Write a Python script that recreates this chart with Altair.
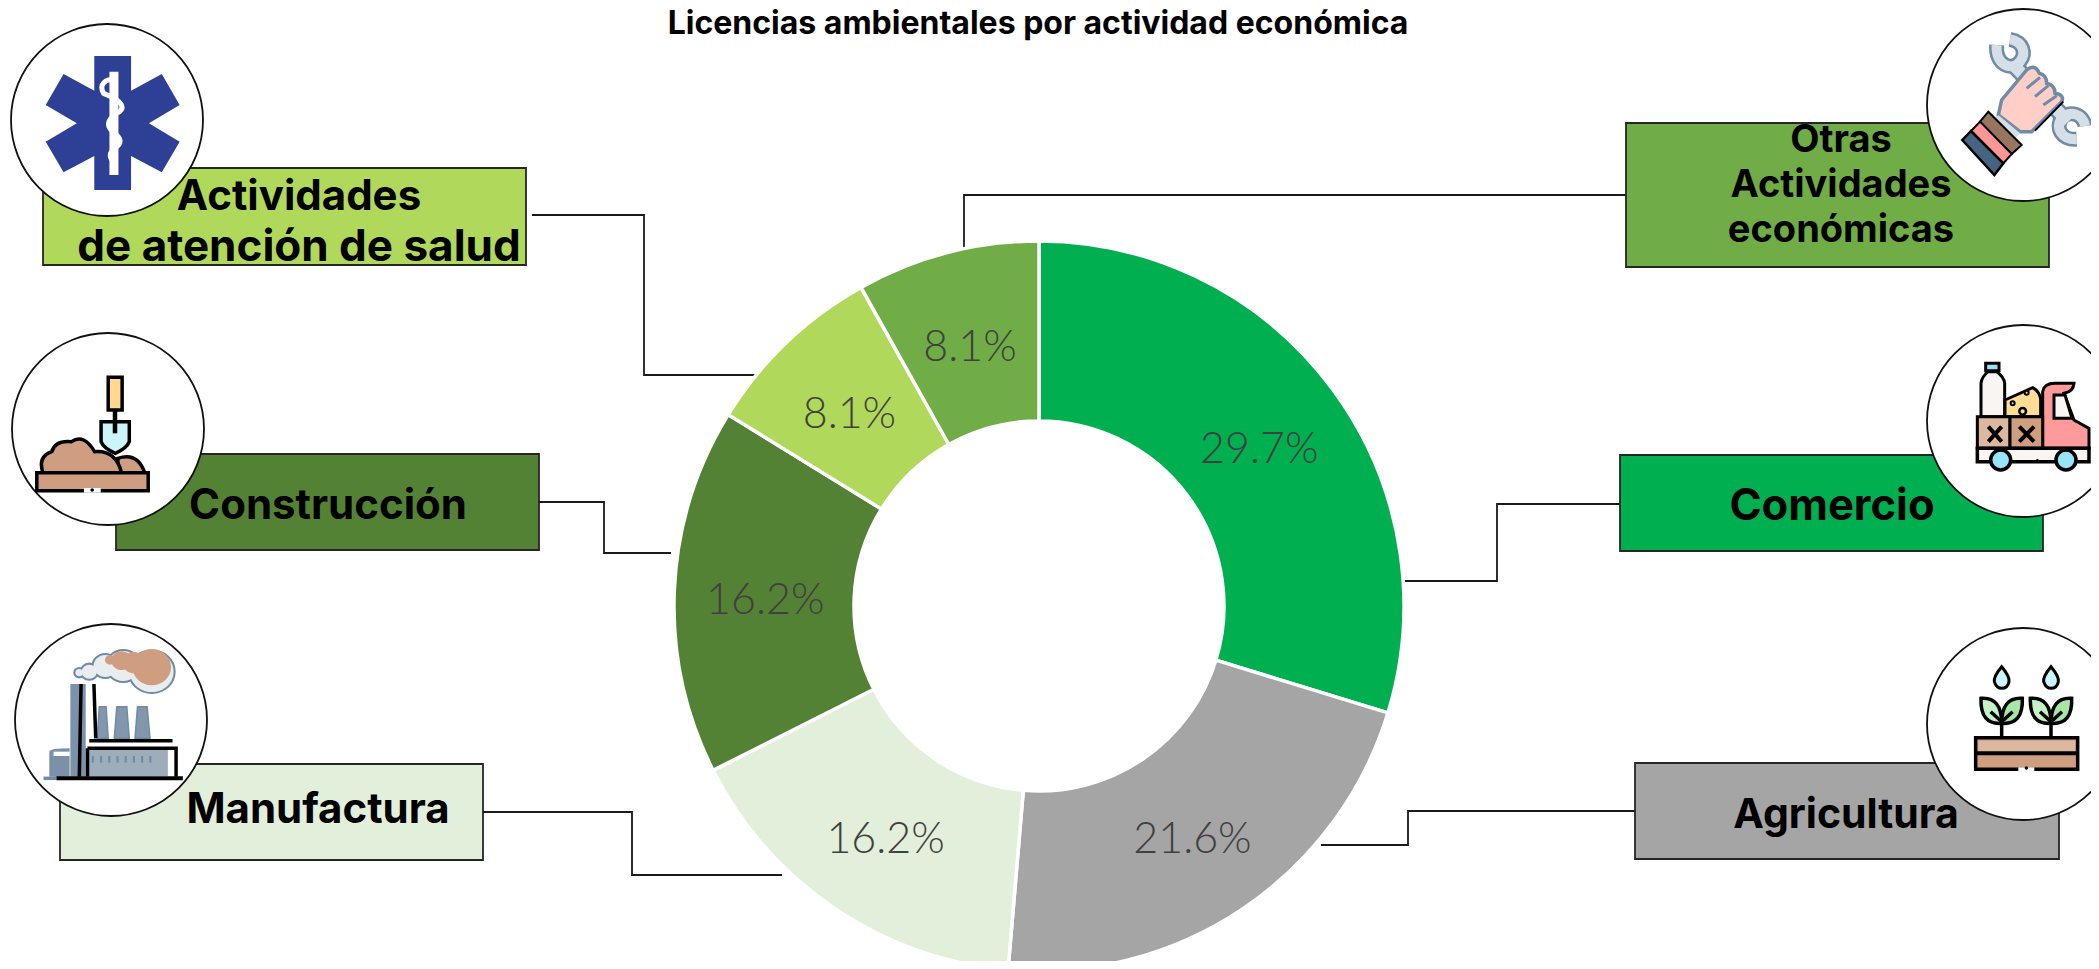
import re
import altair as alt
import pandas as pd

# ---- values ----
categories = ["Comercio", "Agricultura", "Manufactura", "Construcción",
              "Actividades de atención de salud", "Otras Actividades económicas"]
shares = [0.297, 0.216, 0.162, 0.162, 0.081, 0.081]
colors = ["#00B050", "#A5A5A5", "#E2EFDA", "#548235", "#B0D95B", "#70AD47"]
title_text = "Licencias ambientales por actividad económica"

OFF = 8  # page margin
FONT = "Inter"

donut = pd.DataFrame({"cat": categories, "share": shares, "col": colors,
                      "ord": range(len(categories))})

# ---- annotation layout (page pixels) ----
boxes = pd.DataFrame([
    (43, 168, 526, 265, colors[4]),
    (1626, 123, 2049, 267, colors[5]),
    (116, 454, 539, 550, colors[3]),
    (1620, 455, 2043, 551, colors[0]),
    (60, 764, 483, 860, colors[2]),
    (1635, 763, 2059, 859, colors[1]),
], columns=["x0", "y0", "x1", "y1", "col"])
for c in ["x0", "x1", "y0", "y1"]:
    boxes[c] -= OFF

leaders = {
    "salud": [(532, 215), (644, 215), (644, 375), (756, 375)],
    "otras": [(1626, 195), (964, 195), (964, 259)],
    "cons": [(536, 502), (604, 502), (604, 553), (671, 553)],
    "com": [(1620, 504), (1497, 504), (1497, 581), (1405, 581)],
    "manu": [(483, 812), (632, 812), (632, 875), (782, 875)],
    "agri": [(1635, 811), (1408, 811), (1408, 845), (1321, 845)],
}
leader_rows = [{"g": k, "i": i, "x": p[0] - OFF, "y": p[1] - OFF}
               for k, pts in leaders.items() for i, p in enumerate(pts)]

labels = pd.DataFrame([
    ("Actividades", 299, 210, 42),
    ("de atención de salud", 299, 261, 44),
    ("Otras", 1841, 152, 38),
    ("Actividades", 1841, 197, 38),
    ("económicas", 1841, 242, 38),
    ("Construcción", 328, 519, 42),
    ("Comercio", 1832, 520, 43.5),
    ("Manufactura", 318, 823, 42),
    ("Agricultura", 1846, 828, 41),
], columns=["t", "x", "y", "s"])
labels["x"] -= OFF
labels["y"] -= OFF

circles = pd.DataFrame([(107, 120), (2023, 105), (108, 429), (2023, 421), (111, 720), (2023, 724)],
                       columns=["x", "y"]) - OFF
R = 96

# ---- pictograms, drawn as custom symbol paths ----
Z1 = (0, 0, 2.8, 3); Z2 = (1580, 0, 3, 3); Z3 = (0, 320, 2.8, 3)
Z4 = (1580, 320, 3, 3); Z5 = (0, 610, 2.8, 3); Z6 = (1580, 610, 3, 3)
rows = []


def add(d, zoom, anchor, fill="transparent", stroke="transparent", sw=0):
    ox, oy, fx, fy = zoom
    ax, ay = anchor
    parts = re.findall(r"[MLQCZ]|-?\d+\.?\d*", d)
    out, k = [], 0
    for p in parts:
        if p.isalpha():
            out.append(p)
        else:
            v = float(p)
            if k % 2 == 0:
                out.append(f"{(ox + v / fx - ax) / 100:.4f}")
            else:
                out.append(f"{(oy + v / fy - ay) / 100:.4f}")
            k += 1
    rows.append({"d": " ".join(out), "x": ax - OFF, "y": ay - OFF, "fill": fill,
                 "stroke": stroke, "sw": sw})


def rect(a, b, c, d):
    return f"M{a} {b} L{c} {b} L{c} {d} L{a} {d} Z"


def ell(cx, cy, r):
    k = r * 0.5523
    return (f"M{cx - r} {cy} C{cx - r} {cy - k} {cx - k} {cy - r} {cx} {cy - r} "
            f"C{cx + k} {cy - r} {cx + r} {cy - k} {cx + r} {cy} "
            f"C{cx + r} {cy + k} {cx + k} {cy + r} {cx} {cy + r} "
            f"C{cx - k} {cy + r} {cx - r} {cy + k} {cx - r} {cy} Z")


BROWN = "#CF9E80"; TAN = "#DDB8A0"; STEEL = "#6F8BA5"; K = "#000000"; CY = "#96E5F8"

# star of life
A = (107, 120)
add("M264 168 L367 168 L367 272 L453 222 L503 315 L417 370 L503 425 L453 517 L367 468 L367 570 "
    "L264 570 L264 468 L178 517 L128 425 L215 370 L128 315 L178 222 L264 272 Z", Z1, A, "#2E4095")
add("M319 215 L319 525", Z1, A, stroke="#FFFFFF", sw=9)
add("M330 235 Q270 240 290 280 Q360 310 335 335 Q285 365 315 395 Q355 425 320 445 Q295 470 325 490",
    Z1, A, stroke="#FFFFFF", sw=5)

# hand with spanners
A = (2023, 105)
for sw, c in [(15, STEEL), (10, "#D5DFE8")]:
    add("M1300 195 L1465 365", Z2, A, stroke=c, sw=sw + 2)
    add("M1250 135 C1245 195 1295 215 1320 185 C1340 160 1330 125 1290 118", Z2, A, stroke=c, sw=sw)
    add("M1515 378 C1510 340 1465 330 1445 355 C1425 385 1445 420 1490 418", Z2, A, stroke=c, sw=sw)
add("M1265 300 L1340 210 Q1365 190 1378 220 Q1400 225 1400 250 Q1425 255 1425 280 Q1455 285 1445 305 "
    "L1355 395 L1320 395 L1255 345 Z", Z2, A, "#FFCFC7", STEEL, 3.5)
add("M1340 265 L1380 232 M1365 290 L1405 257 M1390 315 L1430 287", Z2, A, stroke=STEEL, sw=3)
add("M1365 392 L1450 305", Z2, A, stroke=K, sw=2)
add("M1255 345 L1320 400 L1300 420 L1238 362 Z", Z2, A, "#D5DFE8")
add("M1225 335 L1325 435 L1295 462 L1200 365 Z", Z2, A, "#997560", K, 2)
add("M1200 365 L1295 462 L1270 490 L1173 393 Z", Z2, A, "#FF9595", K, 2)
add("M1173 393 L1270 490 L1243 525 L1147 420 Z", Z2, A, "#466482", K, 2.5)

# shovel and soil
A = (108, 429)
add("M330 415 Q385 395 405 458 L330 458 Z", Z3, A, BROWN, K, 3.5)
add("M283 305 L362 305 L362 365 Q355 385 323 400 Q290 385 283 365 Z", Z3, A, "#CBF4FB", K, 3.5)
add(rect(303, 172, 342, 270), Z3, A, "#FFD98F", K, 3.5)
add("M322 270 L322 340", Z3, A, stroke=K, sw=4.5)
add("M120 458 Q105 410 145 395 Q155 360 200 365 Q235 340 265 395 Q325 390 340 458 Z", Z3, A, BROWN, K, 3.5)
add(rect(103, 458, 415, 512), Z3, A, BROWN, K, 3.5)
add(rect(235, 504, 282, 518), Z3, A, "#FFFFFF")
add(ell(258, 510, 5), Z3, A, K)

# delivery truck
A = (2023, 421)
add("M1203 290 L1203 190 Q1205 170 1225 155 L1250 155 Q1272 170 1274 190 L1274 290 Z", Z4, A, "#F8F5F2", K, 3)
add(rect(1217, 130, 1257, 152), Z4, A, CY, K, 3)
add("M1275 240 L1358 203 Q1380 215 1382 240 L1382 290 L1275 290 Z", Z4, A, "#FFDD95", K, 3)
add(ell(1340, 218, 6), Z4, A, "#FFDD95", K, 2)
add(ell(1298, 250, 6), Z4, A, "#FFDD95", K, 2)
add(ell(1328, 274, 10), Z4, A, "#FFDD95", K, 2.5)
add("M1388 385 L1388 215 Q1392 190 1425 190 L1482 190 Q1480 215 1452 220 L1482 300 L1527 325 L1527 385 Z",
    Z4, A, "#FF9A9A", K, 3)
add("M1422 225 L1455 225 L1476 295 L1422 295 Z", Z4, A, "#F8F5F2", K, 3)
add(rect(1192, 290, 1290, 385), Z4, A, TAN, K, 3)
add(rect(1290, 290, 1388, 385), Z4, A, BROWN, K, 3)
add("M1225 320 L1265 365 M1265 320 L1225 365 M1318 320 L1362 365 M1362 320 L1318 365", Z4, A, stroke=K, sw=4)
add(rect(1192, 385, 1527, 425), Z4, A, "#F8F5F2", K, 3.5)
add(ell(1262, 420, 30), Z4, A, CY, K, 3.5)
add(ell(1458, 420, 30), Z4, A, CY, K, 3.5)
add(ell(1372, 422, 5), Z4, A, K)

# factory
A = (111, 720)
puffs = [(425, 185, 62), (345, 168, 46), (295, 168, 34), (250, 185, 22), (222, 188, 12)]
for cx, cy, r in puffs:
    add(ell(cx, cy, r), Z5, A, "#E9EDF0", STEEL, 3.5)
for cx, cy, r in puffs:
    add(ell(cx, cy, r - 1), Z5, A, "#E9EDF0")
for cx, cy, r in [(425, 172, 54), (375, 158, 32), (340, 152, 28), (308, 150, 14)]:
    add(ell(cx, cy, r), Z5, A, BROWN)
add(rect(197, 222, 240, 500), Z5, A, "#7A92AA")
add("M272 385 L278 290 L297 290 L303 385 Z M320 385 L327 290 L355 290 L362 385 Z M378 385 L385 290 L412 290 L420 385 Z",
    Z5, A, "#8296AC", STEEL, 1.5)
add("M138 500 L138 425 Q140 415 195 415 L195 500 Z", Z5, A, "#7C91A8")
add(rect(150, 425, 195, 438), Z5, A, "#FFFFFF")
add(rect(245, 420, 470, 498), Z5, A, "#9DADBB")
for px_ in [260, 283, 306, 329, 352, 375, 398, 421]:
    add(rect(px_ - 3, 438, px_ + 3, 458), Z5, A, STEEL)
add("M227 222 L222 500 M263 222 L268 385 M250 392 L483 392 M245 415 L493 415 L493 500 M245 415 L245 500",
    Z5, A, stroke=K, sw=3.5)
add("M122 505 L158 505", Z5, A, stroke=STEEL, sw=3.5)
add("M158 505 L512 505", Z5, A, stroke=K, sw=4)

# seedlings
A = (2023, 724)
for dx in [0, 148]:
    add(f"M{1265 + dx} 170 Q{1240 + dx} 200 {1243 + dx} 215 Q{1250 + dx} 235 {1265 + dx} 235 "
        f"Q{1283 + dx} 235 {1287 + dx} 215 Q{1290 + dx} 200 {1265 + dx} 170 Z", Z6, A, "#CBF4FB", K, 3)
    add(f"M{1265 + dx} 340 Q{1200 + dx} 345 {1203 + dx} 265 Q{1265 + dx} 260 {1265 + dx} 340 Z", Z6, A, "#C6F0C6", K, 3.5)
    add(f"M{1265 + dx} 340 Q{1330 + dx} 345 {1327 + dx} 265 Q{1265 + dx} 260 {1265 + dx} 340 Z", Z6, A, "#A6E6A6", K, 3.5)
    add(f"M{1265 + dx} 335 L{1265 + dx} 383 M{1265 + dx} 335 L{1232 + dx} 305 M{1265 + dx} 335 L{1298 + dx} 305",
        Z6, A, stroke=K, sw=3.5)
add(rect(1187, 383, 1493, 478), Z6, A, BROWN, K, 3.5)
add(rect(1195, 392, 1485, 428), Z6, A, TAN)
add("M1187 430 L1493 430", Z6, A, stroke=K, sw=4)
add(rect(1315, 472, 1363, 484), Z6, A, "#FFFFFF")
add(ell(1339, 474, 5), Z6, A, K)

icons = pd.DataFrame(rows)
icons["ord"] = range(len(icons))

# ---- layers ----
px = lambda f: alt.X(f, scale=None, axis=None)
py = lambda f: alt.Y(f, scale=None, axis=None)
CX, CY_ = 1039 - OFF, 606 - OFF

base = alt.Chart(donut).encode(
    theta=alt.Theta("share:Q", stack=True, scale=alt.Scale(domain=[0, sum(shares)], range=[0, 6.28318530718])),
    order=alt.Order("ord:Q"),
    x=alt.value(CX), y=alt.value(CY_),
)
arc = base.mark_arc(radius=365, radius2=185, stroke="#FFFFFF", strokeWidth=3.5).encode(
    fill=alt.Fill("col:N", scale=None))
pct = base.mark_text(radius=274, dy=7, font="Lato", fontSize=43, fontWeight=300, color="#404040",
                     align="center", baseline="middle").encode(
    text=alt.Text("share:Q", format=".1%"))

lead = alt.Chart(pd.DataFrame(leader_rows)).mark_line(color="#1A1A1A", strokeWidth=1.8).encode(
    x=px("x:Q"), y=py("y:Q"), detail="g:N", order="i:Q")
box = alt.Chart(boxes).mark_rect(stroke="#262626", strokeWidth=1.8).encode(
    x=px("x0:Q"), x2="x1:Q", y=py("y0:Q"), y2="y1:Q", fill=alt.Fill("col:N", scale=None))
lab = alt.Chart(labels).mark_text(font=FONT, fontWeight="bold", color="#000000", align="center",
                                  baseline="alphabetic").encode(
    x=px("x:Q"), y=py("y:Q"), text="t:N", size=alt.Size("s:Q", scale=None))
circ = alt.Chart(circles).mark_point(shape="circle", filled=True, fill="#FFFFFF", stroke="#111111",
                                     strokeWidth=1.8, opacity=1, size=(2 * R) ** 2).encode(
    x=px("x:Q"), y=py("y:Q"))
ico = alt.Chart(icons).mark_point(opacity=1, size=40000).encode(
    x=px("x:Q"), y=py("y:Q"), order="ord:Q",
    shape=alt.Shape("d:N", scale=None),
    fill=alt.Fill("fill:N", scale=None),
    stroke=alt.Stroke("stroke:N", scale=None),
    strokeWidth=alt.StrokeWidth("sw:Q", scale=None),
)
ttl = alt.Chart(pd.DataFrame({"t": [title_text]})).mark_text(
    font=FONT, fontWeight="bold", fontSize=32, color="#000000", align="center", baseline="alphabetic").encode(
    x=alt.value(1038 - OFF), y=alt.value(34 - OFF), text="t:N")

chart = (lead + arc + pct + box + lab + circ + ico + ttl).properties(
    width=2083, height=953, padding=0,
    autosize=alt.AutoSizeParams(type="none", contains="padding"),
    background="#FFFFFF",
).configure_view(stroke=None)

chart.save("out.html", embed_options={"renderer": "svg", "actions": False})
